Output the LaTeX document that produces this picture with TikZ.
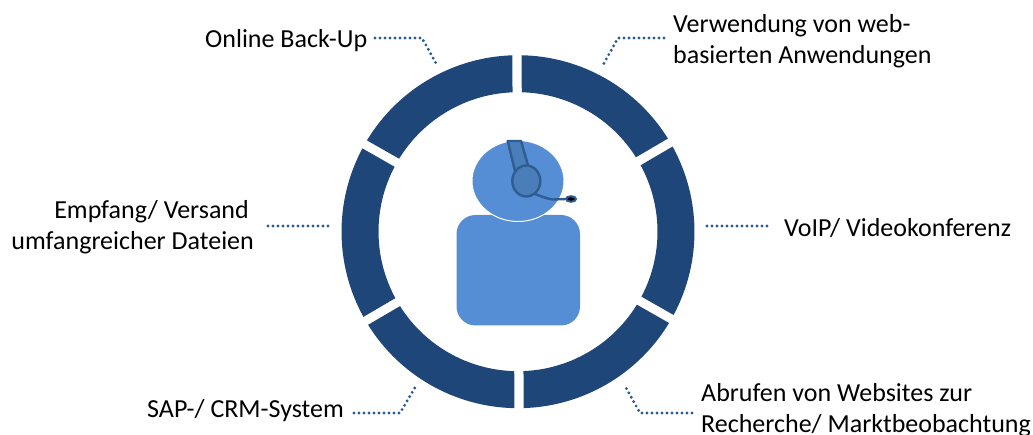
\documentclass[tikz,border=0pt]{standalone}
\usepackage{fontspec}
\setmainfont{Carlito}
\definecolor{ringblue}{HTML}{1F4679}
\definecolor{bodyblue}{HTML}{558ED5}
\definecolor{setblue}{HTML}{4A7EBB}
\definecolor{setline}{HTML}{2F5D8F}
\definecolor{dotblue}{HTML}{2C5A92}
\tikzset{
  seg/.style={fill=ringblue,draw=none},
  lbl/.style={font=\fontsize{26}{31}\selectfont,text=black,inner sep=0pt,align=left},
  dotline/.style={draw=dotblue,line width=3.2pt,line cap=round,dash pattern=on 0pt off 5pt}
}
\begin{document}
\begin{tikzpicture}[x=1pt,y=-1pt]
\useasboundingbox (0,0) rectangle (1033,435);
\def\Ro{176.5}\def\Ri{139.5}\def\da{1.5}\def\db{1.9}
\begin{scope}[shift={(518,231.7)},y=1pt,rotate=0.35]
\foreach \s/\e in {30/90,-30/30,-90/-30,-150/-90,150/210,90/150}{
  \fill[seg] ({\s+\da}:\Ro) arc[start angle=\s+\da,end angle=\e-\da,radius=\Ro]
     -- ({\e-\db}:\Ri) arc[start angle=\e-\db,end angle=\s+\db,radius=\Ri] -- cycle;
}
\end{scope}
% person
\fill[bodyblue,rounded corners=19pt] (456.5,215) rectangle (580,325.5);
\fill[bodyblue,draw=white,line width=1pt] (518,181) ellipse[x radius=46,y radius=40.5];
% headset
\draw[fill=setblue,draw=setline,line width=2.4pt,line join=round] (507.7,141) -- (521,141) -- (528.5,167) -- (515,171) -- cycle;
\draw[fill=setblue,draw=setline,line width=2.4pt] (526.3,181) ellipse[x radius=14,y radius=15.5];
\draw[setline,line width=2.4pt] (535,194) .. controls (543,197) and (548,199) .. (553,199.5) -- (566,199);
\fill[black,draw=setline,line width=2pt] (571,199) ellipse[x radius=5,y radius=2.8];
% labels
\node[lbl,anchor=west] (a) at (205,41) {Online Back-Up};
\node[lbl,anchor=west] (b) at (673,41) {Verwendung von web-\\basierten Anwendungen};
\node[lbl,anchor=west] (c) at (784,228) {VoIP/ Videokonferenz};
\node[lbl,anchor=west] (d) at (701,410) {Abrufen von Websites zur\\Recherche/ Marktbeobachtung};
\node[lbl,anchor=west] (e) at (147,411) {SAP-/ CRM-System};
\node[lbl,anchor=east,align=right] (f) at (254,227.5) {Empfang/ Versand\hspace*{5pt}\\umfangreicher Dateien};
% connectors
\coordinate (a1) at (375,38);\coordinate (a2) at (422,38);\coordinate (a3) at (437,65);
\coordinate (b1) at (664,38);\coordinate (b2) at (618,38);\coordinate (b3) at (603,65);
\coordinate (c1) at (767,226);\coordinate (c2) at (706,226);
\coordinate (d1) at (692,413);\coordinate (d2) at (640,413);\coordinate (d3) at (625,386);
\coordinate (e1) at (354,413);\coordinate (e2) at (400,413);\coordinate (e3) at (416,386);
\coordinate (f1) at (268,226);\coordinate (f2) at (330,226);
\draw[dotline] (a1) -- (a2) -- (a3);
\draw[dotline] (b1) -- (b2) -- (b3);
\draw[dotline] (c1) -- (c2);
\draw[dotline] (d1) -- (d2) -- (d3);
\draw[dotline] (e1) -- (e2) -- (e3);
\draw[dotline] (f1) -- (f2);
\end{tikzpicture}
\end{document}
